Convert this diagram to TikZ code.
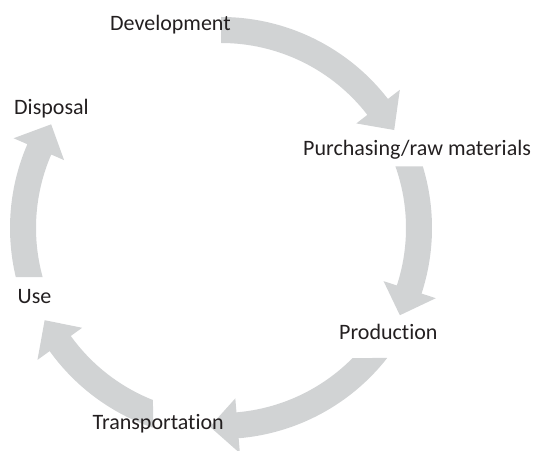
\documentclass[tikz,border=0pt]{standalone}
\usepackage{fontspec}
\setmainfont{Carlito}[Ligatures=NoCommon]
\definecolor{ringgray}{RGB}{209,211,212}
\definecolor{labelink}{RGB}{35,31,32}
% \ringarrow{outer tail angle}{inner tail angle}{head base angle}{tip angle}
% draws one curved block arrow of the ring around (ctr), running clockwise
\newcommand{\ringarrow}[4]{%
  \fill[ringshape, shift={(ctr)}]
    (#1:211) arc[start angle=#1, end angle=#3, radius=211]
    -- (#3:226) -- (#4:199) -- (#3:171) -- (#3:185)
    arc[start angle=#3, end angle=#2, radius=185] -- cycle;}
\begin{document}
\begin{tikzpicture}[x=1pt, y=1pt,
  ringshape/.style={fill=ringgray, draw=none},
  stage/.style={inner sep=0pt, anchor=base west, text=labelink,
                font=\fontsize{22}{26}\selectfont}]
\useasboundingbox (0,0) rectangle (534,450);
\coordinate (ctr) at (221,222);

% ring of five arrows
\ringarrow{90}{90}{37.7}{29.5}
\ringarrow{16.95}{19.42}{-18.1}{-26}
\ringarrow{-38.03}{-44.65}{-85.2}{-93.2}
\ringarrow{-108.8}{-111.57}{-144.3}{-152.4}
\ringarrow{193.43}{195.36}{156.6}{148.6}

% stage labels
\node[stage] (dev)   at (110,419)   {Development};
\node[stage] (pur)   at (303,294)   {Purchasing/raw materials};
\node[stage] (prod)  at (339,110.7) {Production};
\node[stage] (trans) at (92.5,20.7) {Transportation};
\node[stage] (use)   at (17.5,146.7) {Use};
\node[stage] (disp)  at (14,335)    {Disposal};
\end{tikzpicture}
\end{document}
